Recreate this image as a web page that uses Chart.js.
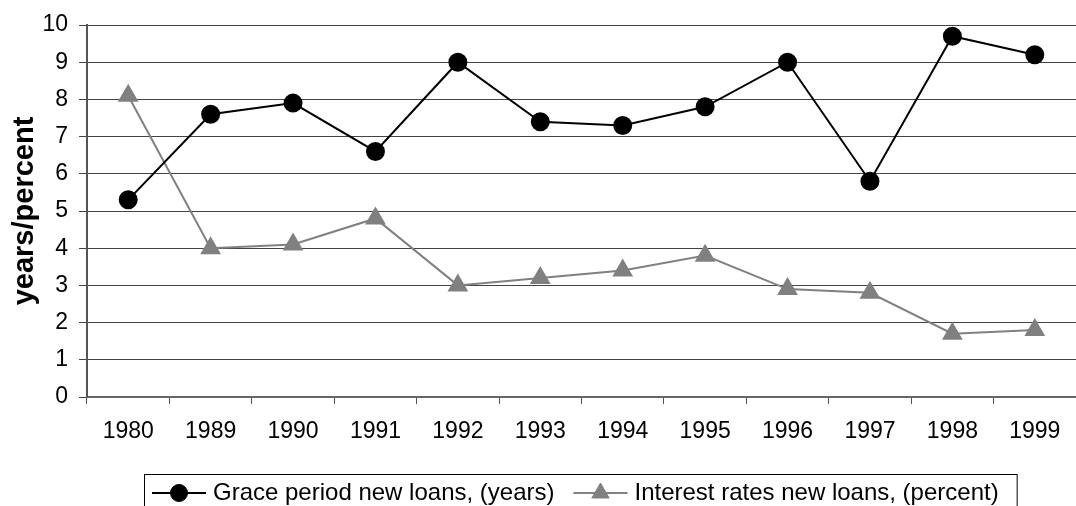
<!DOCTYPE html>
<html>
<head>
<meta charset="utf-8">
<script src="https://cdn.jsdelivr.net/npm/chart.js"></script>
<style>
  html, body { margin: 0; padding: 0; background: #fff; overflow: hidden; }
  #wrap { width: 1088px; height: 506px; }
</style>
</head>
<body>
<div id="wrap"><canvas id="myChart" width="1088" height="506"></canvas></div>
<script>
const years = ['1980', '1989', '1990', '1991', '1992', '1993', '1994', '1995', '1996', '1997', '1998', '1999'];
const gracePeriod = [5.3, 7.6, 7.9, 6.6, 9.0, 7.4, 7.3, 7.8, 9.0, 5.8, 9.7, 9.2];
const interestRates = [8.1, 4.0, 4.1, 4.8, 3.0, 3.2, 3.4, 3.8, 2.9, 2.8, 1.7, 1.8];
const seriesNames = ['Grace period new loans, (years)', 'Interest rates new loans, (percent)'];
const yAxisTitle = 'years/percent';

const FONT = '"Liberation Sans", Arial, sans-serif';

// legend drawn as a boxed row under the plot, each entry a short line with its marker
const boxedLegend = {
  id: 'boxedLegend',
  afterDraw(chart) {
    const { ctx } = chart;
    const lineLen = 54, gapText = 7, gapItems = 19, padL = 8, padR = 18;
    ctx.save();
    ctx.font = '24px ' + FONT;
    const widths = chart.data.datasets.map(ds => ctx.measureText(ds.label).width);
    let total = padL + padR;
    widths.forEach((w, i) => { total += lineLen + gapText + w + (i ? gapItems : 0); });
    const boxLeft = 144, boxTop = 474;
    ctx.strokeStyle = '#000';
    ctx.lineWidth = 1;
    ctx.strokeRect(boxLeft + 0.5, boxTop + 0.5, total, 60);

    const cy = 493;
    let x = boxLeft + padL;
    chart.data.datasets.forEach((ds, i) => {
      if (i) x += gapItems;
      ctx.strokeStyle = ds.borderColor;
      ctx.lineWidth = 2;
      ctx.beginPath();
      ctx.moveTo(x, cy);
      ctx.lineTo(x + lineLen, cy);
      ctx.stroke();
      ctx.fillStyle = ds.pointBackgroundColor;
      ctx.strokeStyle = ds.pointBorderColor;
      ctx.lineWidth = 1;
      Chart.helpers.drawPoint(ctx, { pointStyle: ds.pointStyle, radius: ds.pointRadius, borderWidth: 1 }, x + lineLen / 2, cy);
      x += lineLen + gapText;
      ctx.fillStyle = '#000';
      ctx.textBaseline = 'middle';
      ctx.fillText(ds.label, x, cy);
      x += widths[i];
    });
    ctx.restore();
  }
};

const data = {
  labels: years,
  datasets: [{
    label: seriesNames[0],
    data: gracePeriod,
    borderColor: '#000',
    backgroundColor: '#000',
    pointBackgroundColor: '#000',
    pointBorderColor: '#000',
    pointStyle: 'circle',
    pointRadius: 8.5,
    borderWidth: 2,
    tension: 0
  }, {
    label: seriesNames[1],
    data: interestRates,
    borderColor: '#808080',
    backgroundColor: '#808080',
    pointBackgroundColor: '#808080',
    pointBorderColor: '#808080',
    pointStyle: 'triangle',
    pointRadius: 10,
    borderWidth: 2,
    tension: 0
  }]
};

const config = {
  type: 'line',
  data,
  options: {
    responsive: false,
    animation: false,
    devicePixelRatio: 1,
    layout: { padding: { top: 25, right: 1, bottom: 59, left: 0 } },
    plugins: {
      legend: { display: false },
      tooltip: { enabled: false }
    },
    scales: {
      x: {
        offset: true,
        grid: {
          offset: true,
          drawOnChartArea: false,
          drawTicks: true,
          tickLength: 7,
          color: '#555'
        },
        border: { color: '#666', width: 2 },
        ticks: {
          color: '#000',
          font: { family: FONT, size: 23 },
          padding: 14,
          maxRotation: 0,
          autoSkip: false
        },
        afterFit(scale) { scale.height = 50; }
      },
      y: {
        min: 0,
        max: 10,
        grid: {
          color: '#444',
          lineWidth: 1,
          tickLength: 8
        },
        border: { color: '#555', width: 2 },
        ticks: {
          stepSize: 1,
          color: '#000',
          font: { family: FONT, size: 23 },
          padding: 11
        },
        title: {
          display: true,
          text: yAxisTitle,
          color: '#000',
          font: { family: FONT, size: 29, weight: 'bold' },
          padding: { top: 8, bottom: 0 }
        },
        afterFit(scale) { scale.width = 87; }
      }
    }
  },
  plugins: [boxedLegend]
};

const myChart = new Chart(document.getElementById('myChart'), config);
</script>
</body>
</html>
